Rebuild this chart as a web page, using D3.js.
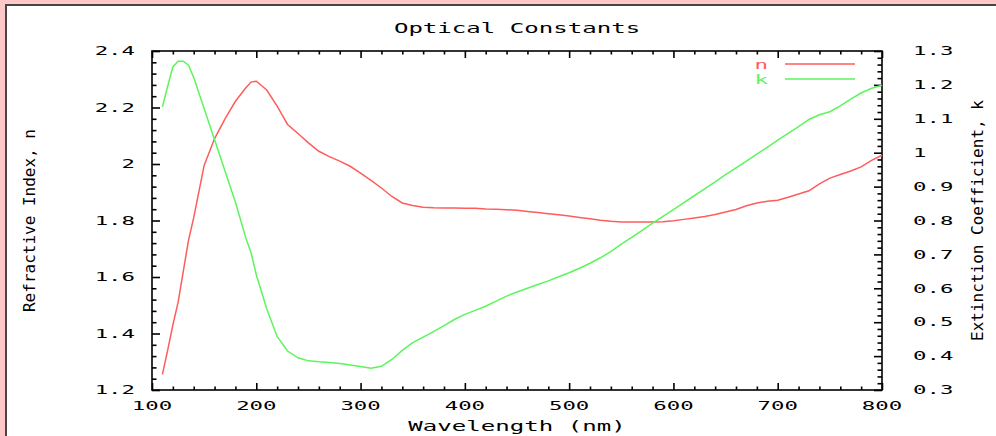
<!DOCTYPE html>
<html>
<head>
<meta charset="utf-8">
<script src="https://cdn.jsdelivr.net/npm/d3@7"></script>
<style>
  html, body { margin: 0; padding: 0; background: #ffc8c8; }
  svg { display: block; }
  text { font-family: "DejaVu Sans Mono", "Liberation Mono", monospace; fill: #000; }
</style>
</head>
<body>
<svg id="chart" width="996" height="436"></svg>
<script>
// Wavelength samples (nm) with refractive index n and extinction coefficient k
const wavelength = [110, 115, 120, 125, 130, 135, 140, 150, 160, 170, 180, 190, 195,
  200, 210, 220, 230, 240, 250, 260, 270, 280, 290, 300, 310, 320, 330, 340, 350,
  360, 370, 380, 390, 400, 410, 420, 430, 440, 450, 460, 470, 480, 490, 500, 510,
  520, 530, 540, 550, 560, 570, 580, 590, 600, 610, 620, 630, 640, 650, 660, 670,
  680, 690, 700, 710, 720, 730, 740, 750, 760, 770, 780, 790, 800];

const nValues = [1.255, 1.34, 1.43, 1.51, 1.62, 1.73, 1.81, 1.995, 2.09, 2.16, 2.222, 2.27, 2.29,
  2.293, 2.262, 2.205, 2.14, 2.108, 2.075, 2.045, 2.026, 2.01, 1.992, 1.968, 1.942, 1.915, 1.885, 1.862, 1.853,
  1.847, 1.845, 1.844, 1.844, 1.843, 1.843, 1.841, 1.84, 1.838, 1.836, 1.832, 1.828, 1.824, 1.82, 1.816, 1.811,
  1.806, 1.801, 1.797, 1.795, 1.795, 1.795, 1.795, 1.796, 1.799, 1.804, 1.809, 1.814, 1.821, 1.83, 1.839, 1.852,
  1.862, 1.868, 1.872, 1.882, 1.894, 1.905, 1.93, 1.95, 1.963, 1.975, 1.99, 2.013, 2.031];

const kValues = [1.135, 1.196, 1.253, 1.27, 1.27, 1.258, 1.222, 1.13, 1.038, 0.946, 0.854, 0.748, 0.705,
  0.64, 0.54, 0.458, 0.415, 0.395, 0.386, 0.383, 0.381, 0.378, 0.374, 0.369, 0.364, 0.37, 0.39, 0.417, 0.44,
  0.456, 0.472, 0.49, 0.508, 0.523, 0.535, 0.547, 0.562, 0.577, 0.589, 0.6, 0.611, 0.622, 0.634, 0.646, 0.659,
  0.674, 0.69, 0.708, 0.73, 0.75, 0.771, 0.792, 0.812, 0.832, 0.853, 0.873, 0.893, 0.914, 0.935, 0.955, 0.975,
  0.996, 1.016, 1.037, 1.057, 1.077, 1.098, 1.112, 1.121, 1.138, 1.158, 1.176, 1.19, 1.199];

const xTicks = [100, 200, 300, 400, 500, 600, 700, 800];
const xTickLabels = ["100", "200", "300", "400", "500", "600", "700", "800"];
const nTicks = [1.2, 1.4, 1.6, 1.8, 2.0, 2.2, 2.4];
const nTickLabels = ["1.2", "1.4", "1.6", "1.8", "2", "2.2", "2.4"];
const kTicks = [0.3, 0.4, 0.5, 0.6, 0.7, 0.8, 0.9, 1.0, 1.1, 1.2, 1.3];
const kTickLabels = ["0.3", "0.4", "0.5", "0.6", "0.7", "0.8", "0.9", "1", "1.1", "1.2", "1.3"];

const seriesNames = ["n", "k"];
const seriesColors = ["#ff5c5c", "#5cf55c"];

const titleText = "Optical Constants";
const xTitle = "Wavelength (nm)";
const nTitle = "Refractive Index, n";
const kTitle = "Extinction Coefficient, k";

// ---- layout ----
const W = 996, H = 436;
const plot = { left: 152, right: 882, top: 51, bottom: 390 };

const svg = d3.select("#chart");

// white panel with dark frame on pink page
svg.append("rect")
  .attr("x", 6).attr("y", 5).attr("width", W).attr("height", H)
  .attr("fill", "#ffffff").attr("stroke", "#454545").attr("stroke-width", 2);

const x = d3.scaleLinear().domain([100, 800]).range([plot.left, plot.right]);
const yN = d3.scaleLinear().domain([1.2, 2.4]).range([plot.bottom, plot.top]);
const yK = d3.scaleLinear().domain([0.3, 1.3]).range([plot.bottom, plot.top]);

// minor tick positions
const xMinor = d3.range(100, 800.1, 20).filter(v => v % 100 !== 0);
const nMinor = d3.range(0, 31).map(i => 1.2 + i * 0.04).filter((v, i) => i % 5 !== 0);
const kMinor = d3.range(0, 51).map(i => 0.3 + i * 0.02).filter((v, i) => i % 5 !== 0);

function styleAxis(g) {
  g.select(".domain").remove();
  g.selectAll("line").attr("stroke", "#000").attr("stroke-width", 1.6);
  g.selectAll("text").remove();
}

const axesG = svg.append("g");
// bottom
axesG.append("g").attr("transform", `translate(0,${plot.bottom})`)
  .call(d3.axisBottom(x).tickValues(xTicks).tickSize(-7).tickFormat("")).call(styleAxis);
axesG.append("g").attr("transform", `translate(0,${plot.bottom})`)
  .call(d3.axisBottom(x).tickValues(xMinor).tickSize(-3.5).tickFormat("")).call(styleAxis);
// top
axesG.append("g").attr("transform", `translate(0,${plot.top})`)
  .call(d3.axisTop(x).tickValues(xTicks).tickSize(-7).tickFormat("")).call(styleAxis);
axesG.append("g").attr("transform", `translate(0,${plot.top})`)
  .call(d3.axisTop(x).tickValues(xMinor).tickSize(-3.5).tickFormat("")).call(styleAxis);
// left (n)
axesG.append("g").attr("transform", `translate(${plot.left},0)`)
  .call(d3.axisLeft(yN).tickValues(nTicks).tickSize(-8).tickFormat("")).call(styleAxis);
axesG.append("g").attr("transform", `translate(${plot.left},0)`)
  .call(d3.axisLeft(yN).tickValues(nMinor).tickSize(-4.5).tickFormat("")).call(styleAxis);
// right (k)
axesG.append("g").attr("transform", `translate(${plot.right},0)`)
  .call(d3.axisRight(yK).tickValues(kTicks).tickSize(-8).tickFormat("")).call(styleAxis);
axesG.append("g").attr("transform", `translate(${plot.right},0)`)
  .call(d3.axisRight(yK).tickValues(kMinor).tickSize(-4.5).tickFormat("")).call(styleAxis);

// frame
axesG.append("rect")
  .attr("x", plot.left).attr("y", plot.top)
  .attr("width", plot.right - plot.left).attr("height", plot.bottom - plot.top)
  .attr("fill", "none").attr("stroke", "#000").attr("stroke-width", 1.6);

// wide, low-res style lettering: glyphs stretched horizontally
function wideText(parent, px, py, str, size, sx, anchor, color) {
  return parent.append("text")
    .attr("transform", `translate(${px},${py}) scale(${sx},1)`)
    .attr("text-anchor", anchor)
    .attr("font-size", size)
    .style("fill", color || "#000")
    .text(str);
}

const labels = svg.append("g");
xTicks.forEach((v, i) => wideText(labels, x(v), 410, xTickLabels[i], 11.4, 1.96, "middle"));
nTicks.forEach((v, i) => wideText(labels, 135, yN(v) + 4.2, nTickLabels[i], 11.4, 1.96, "end"));
kTicks.forEach((v, i) => wideText(labels, 913, yK(v) + 4.2, kTickLabels[i], 11.4, 1.96, "start"));

wideText(labels, (plot.left + plot.right) / 2, 32.5, titleText, 14.5, 1.66, "middle");
wideText(labels, (plot.left + plot.right) / 2, 431, xTitle, 14.5, 1.66, "middle");

labels.append("text")
  .attr("transform", `translate(35,${(plot.top + plot.bottom) / 2}) rotate(-90)`)
  .attr("text-anchor", "middle").attr("font-size", 16).text(nTitle);
labels.append("text")
  .attr("transform", `translate(983.3,${(plot.top + plot.bottom) / 2}) rotate(-90)`)
  .attr("text-anchor", "middle").attr("font-size", 16).text(kTitle);

// curves
const lineN = d3.line().x((d, i) => x(wavelength[i])).y(d => yN(d));
const lineK = d3.line().x((d, i) => x(wavelength[i])).y(d => yK(d));

const curves = svg.append("g");
curves.append("path").datum(nValues).attr("d", lineN)
  .attr("fill", "none").attr("stroke", seriesColors[0]).attr("stroke-width", 1.5);
curves.append("path").datum(kValues).attr("d", lineK)
  .attr("fill", "none").attr("stroke", seriesColors[1]).attr("stroke-width", 1.5);

// legend
const legend = svg.append("g");
seriesNames.forEach((name, i) => {
  const ly = 64 + i * 15;
  wideText(legend, 768, ly + 4.5, name, 12.5, 1.8, "end", seriesColors[i]);
  legend.append("line")
    .attr("x1", 785).attr("x2", 855).attr("y1", ly).attr("y2", ly)
    .attr("stroke", seriesColors[i]).attr("stroke-width", 1.5);
});
</script>
</body>
</html>
